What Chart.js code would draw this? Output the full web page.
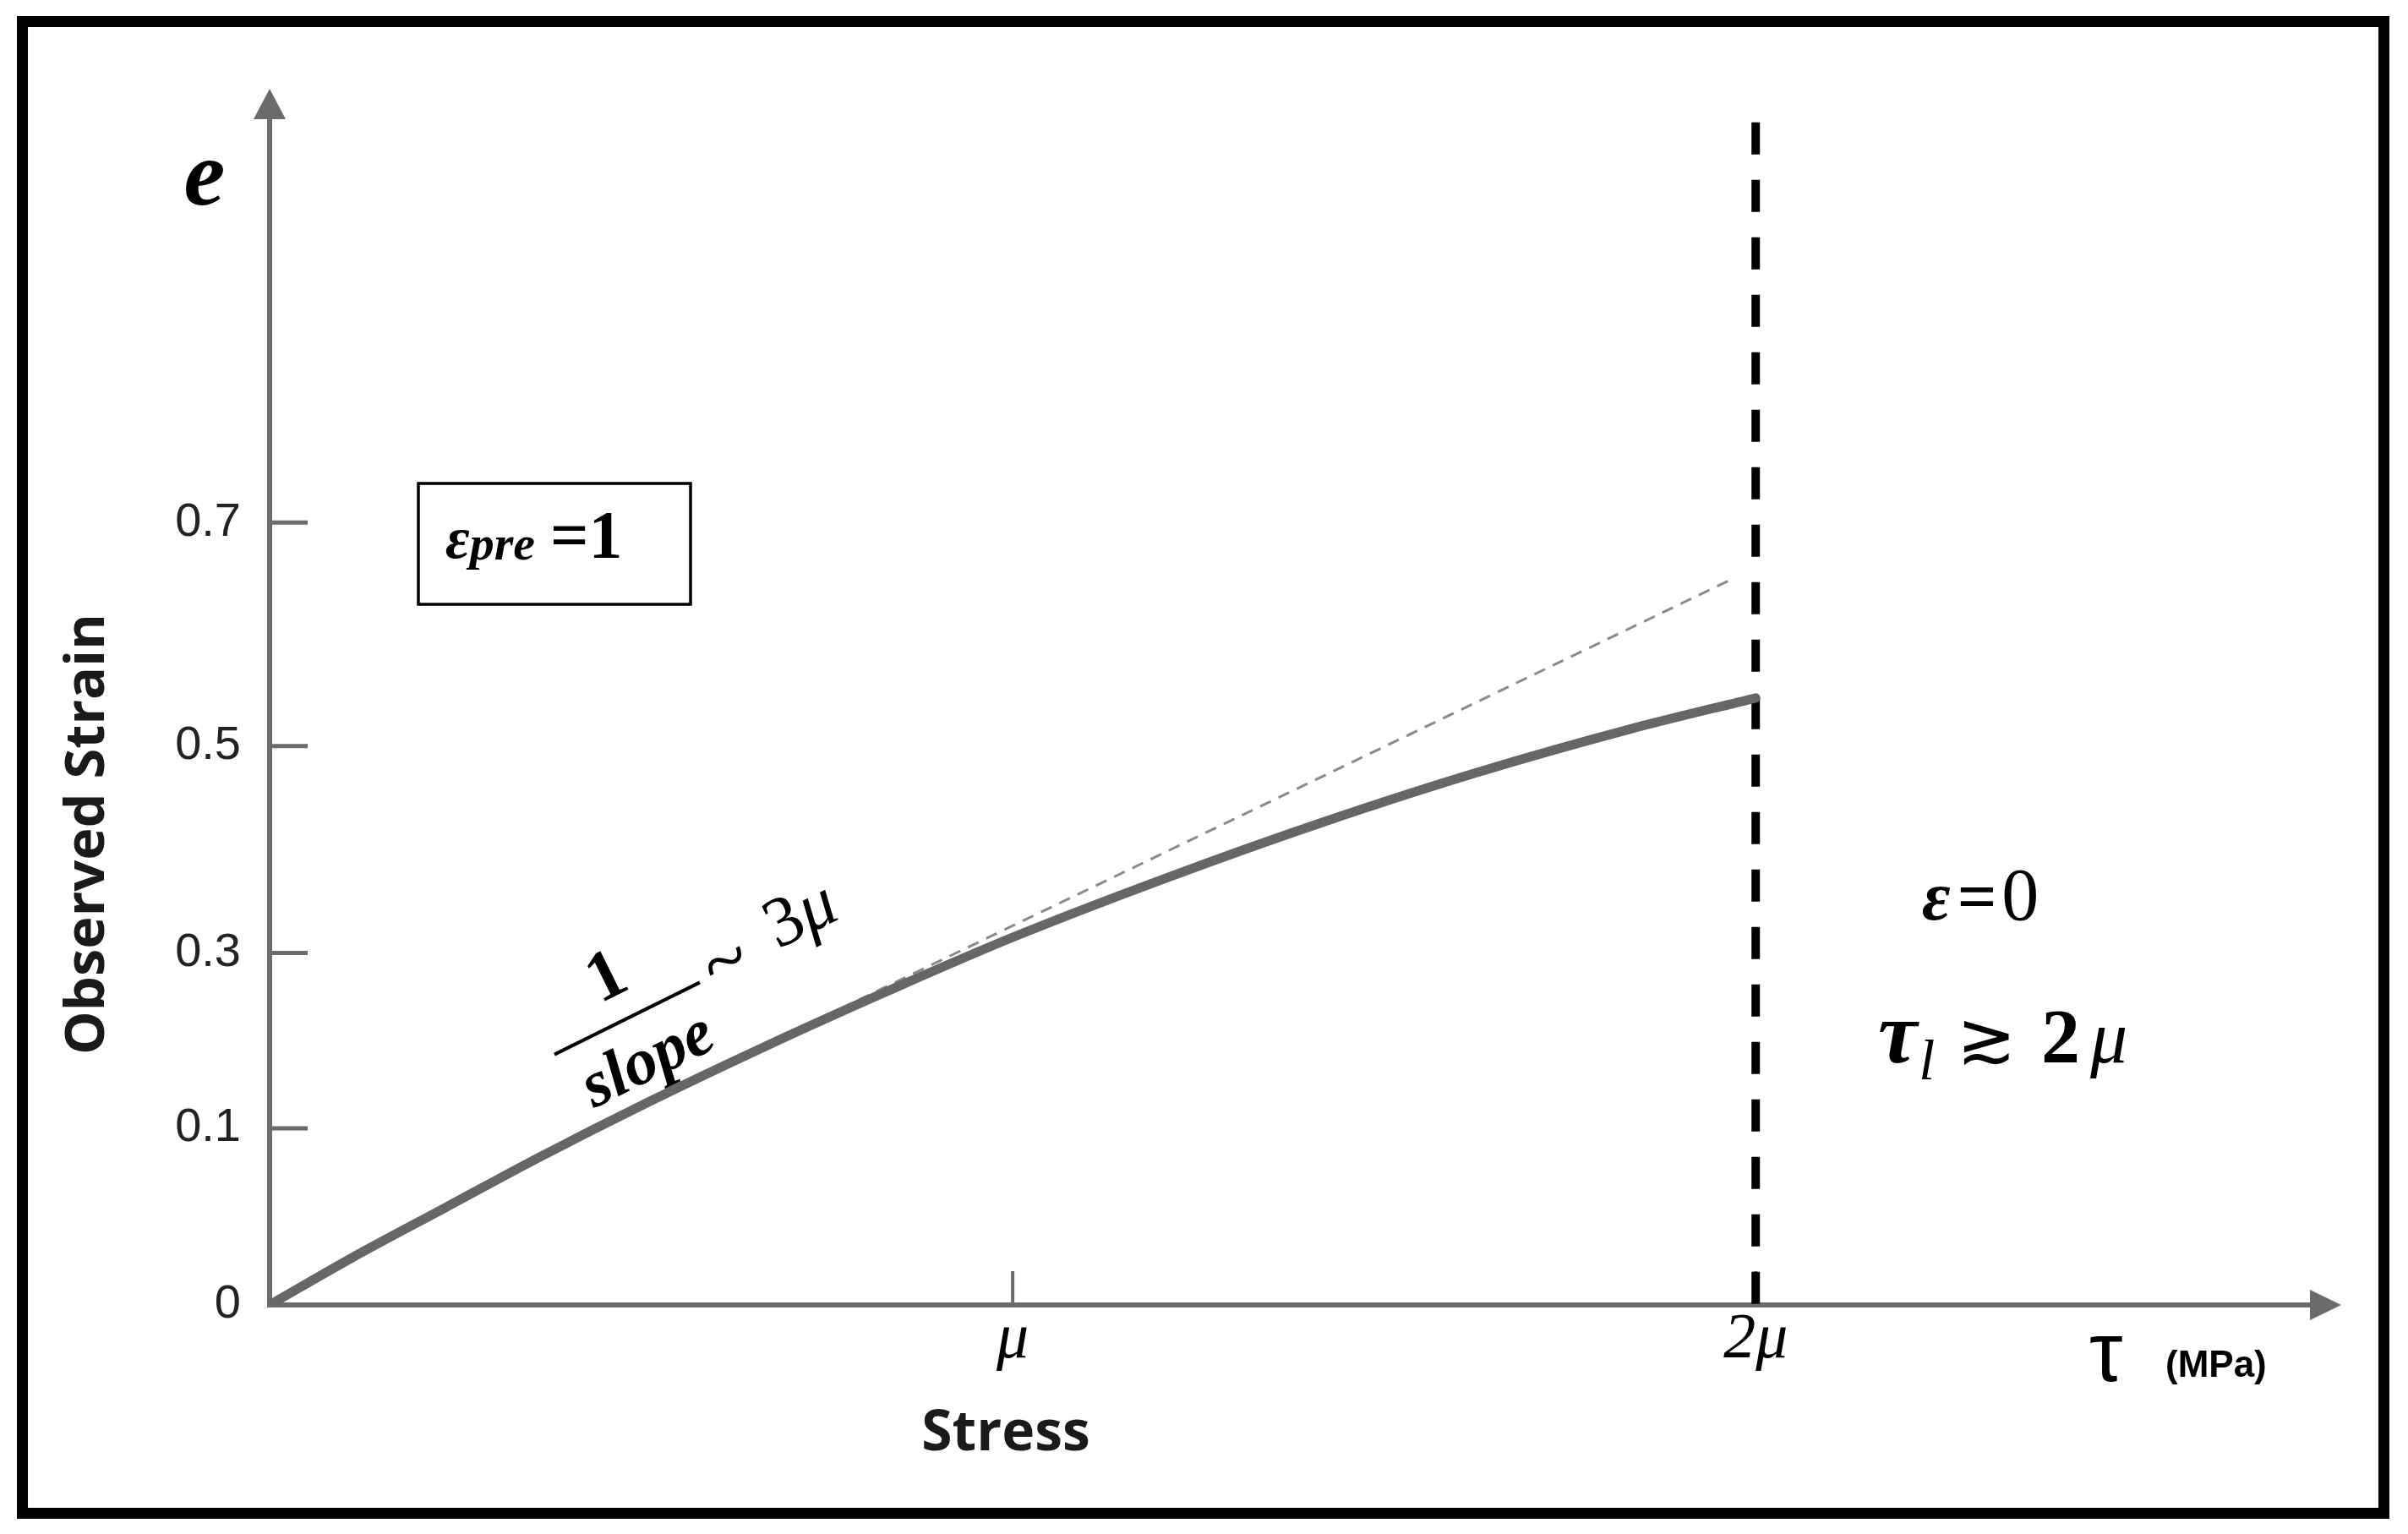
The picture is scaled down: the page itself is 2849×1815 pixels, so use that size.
<!DOCTYPE html>
<html>
<head>
<meta charset="utf-8">
<script src="https://cdn.jsdelivr.net/npm/chart.js@4.4.1/dist/chart.umd.min.js"></script>
<style>
  html, body { margin: 0; padding: 0; background: #fff; }
</style>
</head>
<body>
<canvas id="canvas" width="2849" height="1815"></canvas>
<script>
// stress in units of mu, observed strain
const stress = [0, 0.112, 0.236, 0.360, 0.505, 0.671, 0.836, 1.0, 1.209, 1.416, 1.623, 1.830, 2.0];
const strain = [0, 0.027, 0.055, 0.083, 0.128, 0.195, 0.258, 0.315, 0.373, 0.426, 0.474, 0.515, 0.543];

// thin dashed tangent (initial slope)
const tangentStress = [0.743, 1.967];
const tangentStrain = [0.226, 0.649];

// limit line at 2 mu
const limitStress = [2, 2];
const limitStrain = [1.058, 0];

const xTicks = [1, 2];
const xTickLabels = ["μ", "2μ"];
const yTicks = [0, 0.1, 0.3, 0.5, 0.7];
const yTickLabels = ["0", "0.1", "0.3", "0.5", "0.7"];
// the hand drawn axis is not evenly spaced: where each tick sits on it
const yTickPlace = [0, 0.158, 0.315, 0.5, 0.7];

const SERIF = '"Liberation Serif", "DejaVu Serif", serif';
const SANS = '"Liberation Sans", Arial, sans-serif';
const OPEN = '"Open Sans", sans-serif';
const AXIS = "#6b6b6b";

const warp = (v) => {
  const n = yTicks.length;
  if (v >= yTicks[n - 1]) return yTickPlace[n - 1] + (v - yTicks[n - 1]);
  for (let i = 1; i < n; i++) {
    if (v <= yTicks[i]) {
      const t = (v - yTicks[i - 1]) / (yTicks[i] - yTicks[i - 1]);
      return yTickPlace[i - 1] + t * (yTickPlace[i] - yTickPlace[i - 1]);
    }
  }
};

const unwarp = (p) => {
  const n = yTickPlace.length;
  if (p >= yTickPlace[n - 1]) return yTicks[n - 1] + (p - yTickPlace[n - 1]);
  for (let i = 1; i < n; i++) {
    if (p <= yTickPlace[i]) {
      const t = (p - yTickPlace[i - 1]) / (yTickPlace[i] - yTickPlace[i - 1]);
      return yTicks[i - 1] + t * (yTicks[i] - yTicks[i - 1]);
    }
  }
};

class SketchScale extends Chart.LinearScale {
  static id = "sketch";
  getPixelForValue(v) { return super.getPixelForValue(warp(v)); }
  getValueForPixel(p) { return unwarp(super.getValueForPixel(p)); }
}
Chart.register(SketchScale);

const drawRun = (c, x, y, parts) => {
  parts.forEach(p => {
    c.font = p.font;
    c.fillText(p.text, x, y + (p.dy || 0));
    x += c.measureText(p.text).width + (p.gap || 0);
  });
};

const sketch = {
  id: "sketch",
  beforeDraw(chart) {
    const c = chart.ctx;
    c.save();
    c.fillStyle = "#fff";
    c.fillRect(0, 0, chart.width, chart.height);
    c.restore();
  },
  beforeDatasetsDraw(chart) {
    const { ctx: c, chartArea: a, scales: { x, y } } = chart;
    const x0 = x.getPixelForValue(0), y0 = y.getPixelForValue(0);
    c.save();
    c.strokeStyle = AXIS;
    c.fillStyle = AXIS;
    c.lineWidth = 6;
    c.beginPath();
    c.moveTo(x0, y0 + 3); c.lineTo(x0, a.top + 34);
    c.moveTo(x0 - 3, y0); c.lineTo(a.right - 34, y0);
    c.stroke();
    c.beginPath();
    c.moveTo(x0, a.top); c.lineTo(x0 - 19, a.top + 36); c.lineTo(x0 + 19, a.top + 36);
    c.closePath(); c.fill();
    c.beginPath();
    c.moveTo(a.right, y0); c.lineTo(a.right - 37, y0 - 18); c.lineTo(a.right - 37, y0 + 18);
    c.closePath(); c.fill();
    c.lineWidth = 5;
    c.beginPath();
    y.ticks.forEach(t => {
      if (t.value === 0) return;
      const py = y.getPixelForValue(t.value);
      c.moveTo(x0, py); c.lineTo(x0 + 45, py);
    });
    c.stroke();
    c.lineWidth = 4;
    c.beginPath();
    x.ticks.forEach(t => {
      const px = x.getPixelForValue(t.value);
      c.moveTo(px, y0); c.lineTo(px, y0 - 40);
    });
    c.stroke();
    c.restore();
  },
  afterDraw(chart) {
    const c = chart.ctx;
    c.save();
    c.fillStyle = "#000";
    c.strokeStyle = "#000";
    c.textBaseline = "alphabetic";

    // axis names
    c.textAlign = "center";
    c.font = `bold italic 110px ${SERIF}`;
    c.fillText("e", 242, 242);

    c.font = `bold 66px ${OPEN}`;
    c.fillStyle = "#1a1a1a";
    c.textBaseline = "middle";
    c.fillText("Stress", 1190, 1697);
    c.save();
    c.translate(104, 987);
    c.rotate(-Math.PI / 2);
    c.font = `bold 65px ${OPEN}`;
    c.fillText("Observed Strain", 0, 0);
    c.restore();

    c.fillStyle = "#000";
    c.textBaseline = "alphabetic";
    c.textAlign = "left";
    c.font = `100px ${SANS}`;
    c.fillText("τ", 2472, 1634);
    c.font = `bold 44px ${SANS}`;
    c.fillText("(MPa)", 2562, 1629);

    // pre-strain box
    c.lineWidth = 3.5;
    c.strokeRect(495, 572, 322, 143);
    drawRun(c, 527, 660, [
      { text: "ε", font: `bold italic 70px ${SERIF}` },
      { text: "pre", font: `bold italic 58px ${SERIF}`, dy: 2, gap: 18 },
      { text: "=1", font: `bold 80px ${SERIF}` }
    ]);

    // right hand notes
    drawRun(c, 2274, 1088, [
      { text: "ε", font: `bold italic 82px ${SERIF}`, gap: 8 },
      { text: "=", font: `bold 82px ${SERIF}`, gap: 6 },
      { text: "0", font: `88px ${SERIF}` }
    ]);
    drawRun(c, 2222, 1257, [
      { text: "τ", font: `bold italic 104px ${SERIF}`, gap: 2 },
      { text: "l", font: `italic 68px ${SERIF}`, dy: 20, gap: 26 },
      { text: "≳", font: `84px ${SERIF}`, gap: 30 },
      { text: "2", font: `bold 92px ${SERIF}`, gap: 12 },
      { text: "μ", font: `italic 88px ${SERIF}` }
    ]);

    // slope note, tilted along the curve
    c.save();
    c.translate(742, 1205);
    c.rotate(-0.46);
    c.fillRect(-96, -2, 192, 4);
    c.textAlign = "center";
    c.font = `bold 84px ${SERIF}`;
    c.fillText("1", 0, -30);
    c.font = `bold italic 78px ${SERIF}`;
    c.fillText("slope", 0, 78);
    c.textAlign = "left";
    drawRun(c, 108, 22, [{ text: "~", font: `96px ${SERIF}` }]);
    drawRun(c, 196, 6, [
      { text: "3", font: `84px ${SERIF}` },
      { text: "μ", font: `italic 84px ${SERIF}` }
    ]);
    c.restore();

    // frame
    c.lineWidth = 13;
    c.strokeRect(26.5, 25.5, 2794, 1765);
    c.restore();
  }
};

const canvas = document.getElementById("canvas").getContext("2d");

const plot = new Chart(canvas, {
  type: "line",
  data: {
    datasets: [
      {
        data: stress.map((s, i) => ({ x: s, y: strain[i] })),
        borderColor: "#666666",
        borderWidth: 11,
        borderCapStyle: "round",
        cubicInterpolationMode: "monotone",
        pointRadius: 0
      },
      {
        data: tangentStress.map((s, i) => ({ x: s, y: tangentStrain[i] })),
        borderColor: "#8a8a8a",
        borderWidth: 3,
        borderDash: [14, 10],
        pointRadius: 0
      },
      {
        data: limitStress.map((s, i) => ({ x: s, y: limitStrain[i] })),
        borderColor: "#000",
        borderWidth: 10,
        borderDash: [38, 30],
        pointRadius: 0
      }
    ]
  },
  options: {
    responsive: false,
    devicePixelRatio: 1,
    animation: false,
    events: [],
    layout: { padding: { left: 0, top: 105, right: 79, bottom: 0 } },
    plugins: { legend: { display: false }, tooltip: { enabled: false } },
    scales: {
      x: {
        type: "linear",
        min: 0,
        max: 2.788,
        grid: { display: false, drawTicks: false },
        border: { display: false },
        afterBuildTicks: (s) => { s.ticks = xTicks.map(v => ({ value: v })); },
        afterFit: (s) => { s.height = 1815 - 1544; },
        ticks: {
          callback: (v, i) => xTickLabels[i],
          font: { family: SERIF, size: 76, style: "italic" },
          color: "#000",
          padding: -4,
          autoSkip: false,
          maxRotation: 0
        }
      },
      y: {
        type: "sketch",
        min: 0,
        max: 1.088,
        grid: { display: false, drawTicks: false },
        border: { display: false },
        afterBuildTicks: (s) => { s.ticks = yTicks.map(v => ({ value: v })); },
        afterFit: (s) => { s.width = 319; },
        ticks: {
          callback: (v, i) => yTickLabels[i],
          font: { family: SANS, size: 56 },
          color: "#222",
          padding: 34,
          autoSkip: false
        }
      }
    }
  },
  plugins: [sketch]
});
</script>
</body>
</html>
